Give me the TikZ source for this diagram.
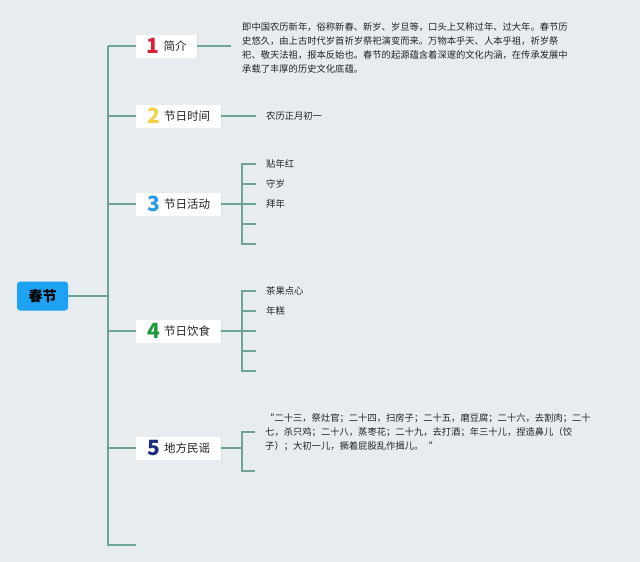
\documentclass[tikz,border=0pt]{standalone}
\usepackage{fontspec}
\setmainfont{Noto Sans CJK SC}
\newfontfamily\numfont{Noto Sans CJK SC}
\usetikzlibrary{shadows}
\definecolor{bgc}{HTML}{E7ECF0}
\definecolor{linec}{HTML}{6FA396}
\definecolor{rootc}{HTML}{1EA2F3}
\definecolor{cone}{HTML}{D9213A}
\definecolor{ctwo}{HTML}{F2CF45}
\definecolor{cthree}{HTML}{2B9BE3}
\definecolor{cfour}{HTML}{1F9A3B}
\definecolor{cfive}{HTML}{1C2C7C}
\definecolor{txtc}{HTML}{222222}
\tikzset{
  conn/.style={draw=linec, line width=1.2pt},
  rootbox/.style={fill=rootc, rounded corners=3pt, minimum width=51pt, minimum height=29pt, inner sep=0pt, font=\fontsize{14}{15}\selectfont\bfseries, text=black},
  topicbox/.style={fill=white, minimum height=23pt, inner sep=0pt, anchor=west, font=\fontsize{11.5}{13}\selectfont, text=txtc,
    drop shadow={opacity=0.12, shadow xshift=0.6pt, shadow yshift=-0.8pt}},
  leaf/.style={anchor=west, inner sep=0pt, font=\fontsize{9.3}{11}\selectfont, text=txtc},
  para/.style={anchor=base west, inner sep=0pt, text width=345pt, align=left, font=\fontsize{9.3}{14}\selectfont, text=txtc},
}
\newcommand{\numlbl}[2]{\raisebox{-3.3pt}{\numfont\fontsize{21}{21}\selectfont\bfseries\color{#1}#2}\hspace{4pt}}
\begin{document}
\begin{tikzpicture}[x=1pt,y=-1pt]
\fill[bgc] (0,0) rectangle (640,562);
\useasboundingbox (0,0) rectangle (640,562);

% root
\node[rootbox] (root) at (42.5,296) {春节};
\coordinate (tr) at (108,296);
\coordinate (ttop) at (108,46);
\coordinate (tbot) at (108,545);
\coordinate (tlast) at (136,545);
\coordinate (ta) at (108,116);
\coordinate (tb) at (108,204);
\coordinate (tc) at (108,331);
\coordinate (td) at (108,448);

% topics
\node[topicbox, minimum width=61pt] (b1) at (136,46) {\numlbl{cone}{1}简介};
\node[topicbox, minimum width=85pt] (b2) at (136,116) {\numlbl{ctwo}{2}节日时间};
\node[topicbox, minimum width=85pt] (b3) at (136,204) {\numlbl{cthree}{3}节日活动};
\node[topicbox, minimum width=85pt] (b4) at (136,331) {\numlbl{cfour}{4}节日饮食};
\node[topicbox, minimum width=85pt] (b5) at (136,448) {\numlbl{cfive}{5}地方民谣};

% trunk
\draw[conn] (root.east) -- (tr);
\draw[conn] (ttop) -- (tbot) -- (tlast);
\draw[conn] (ttop) -- (b1.west);
\draw[conn] (ta) -- (b2.west);
\draw[conn] (tb) -- (b3.west);
\draw[conn] (tc) -- (b4.west);
\draw[conn] (td) -- (b5.west);

% branch 1
\coordinate (e1) at (231,46);
\draw[conn] (b1.east) -- (e1);
\node[para] (p1) at (242,30.5) {即中国农历新年，俗称新春、新岁、岁旦等，口头上又称过年、过大年。春节历\\史悠久，由上古时代岁首祈岁祭祀演变而来。万物本乎天、人本乎祖，祈岁祭\\祀、敬天法祖，报本反始也。春节的起源蕴含着深邃的文化内涵，在传承发展中\\承载了丰厚的历史文化底蕴。};

% branch 2
\coordinate (e2) at (256,116);
\draw[conn] (b2.east) -- (e2);
\node[leaf] (l2) at (266,116) {农历正月初一};

% branch 3
\coordinate (j3) at (242,204);
\coordinate (j3a) at (242,164);
\coordinate (j3e) at (242,244);
\coordinate (j3b) at (242,184);
\coordinate (j3d) at (242,224);
\coordinate (k3a) at (256,164);
\coordinate (k3b) at (256,184);
\coordinate (k3c) at (256,204);
\coordinate (k3d) at (256,224);
\coordinate (k3e) at (256,244);
\draw[conn] (b3.east) -- (j3);
\draw[conn] (k3a) -- (j3a) -- (j3e) -- (k3e);
\draw[conn] (j3b) -- (k3b);
\draw[conn] (j3) -- (k3c);
\draw[conn] (j3d) -- (k3d);
\node[leaf] (l3a) at (266,164) {贴年红};
\node[leaf] (l3b) at (266,184) {守岁};
\node[leaf] (l3c) at (266,204) {拜年};

% branch 4
\coordinate (j4) at (242,331);
\coordinate (j4a) at (242,291);
\coordinate (j4b) at (242,311);
\coordinate (j4d) at (242,351);
\coordinate (j4e) at (242,371);
\coordinate (k4a) at (256,291);
\coordinate (k4b) at (256,311);
\coordinate (k4c) at (256,331);
\coordinate (k4d) at (256,351);
\coordinate (k4e) at (256,371);
\draw[conn] (b4.east) -- (j4);
\draw[conn] (k4a) -- (j4a) -- (j4e) -- (k4e);
\draw[conn] (j4b) -- (k4b);
\draw[conn] (j4) -- (k4c);
\draw[conn] (j4d) -- (k4d);
\node[leaf] (l4a) at (266,291) {茶果点心};
\node[leaf] (l4b) at (266,311) {年糕};

% branch 5
\coordinate (j5) at (242,448);
\coordinate (j5a) at (242,432);
\coordinate (j5b) at (242,471);
\coordinate (k5a) at (255,432);
\coordinate (k5b) at (255,471);
\draw[conn] (b5.east) -- (j5);
\draw[conn] (k5a) -- (j5a) -- (j5b) -- (k5b);
\node[para] (p5) at (265,421.5) {“二十三，祭灶官；二十四，扫房子；二十五，磨豆腐；二十六，去割肉；二十\\七，杀只鸡；二十八，蒸枣花；二十九，去打酒；年三十儿，捏造鼻儿（饺\\子）；大初一儿，撅着屁股乱作揖儿。“};
\end{tikzpicture}
\end{document}
